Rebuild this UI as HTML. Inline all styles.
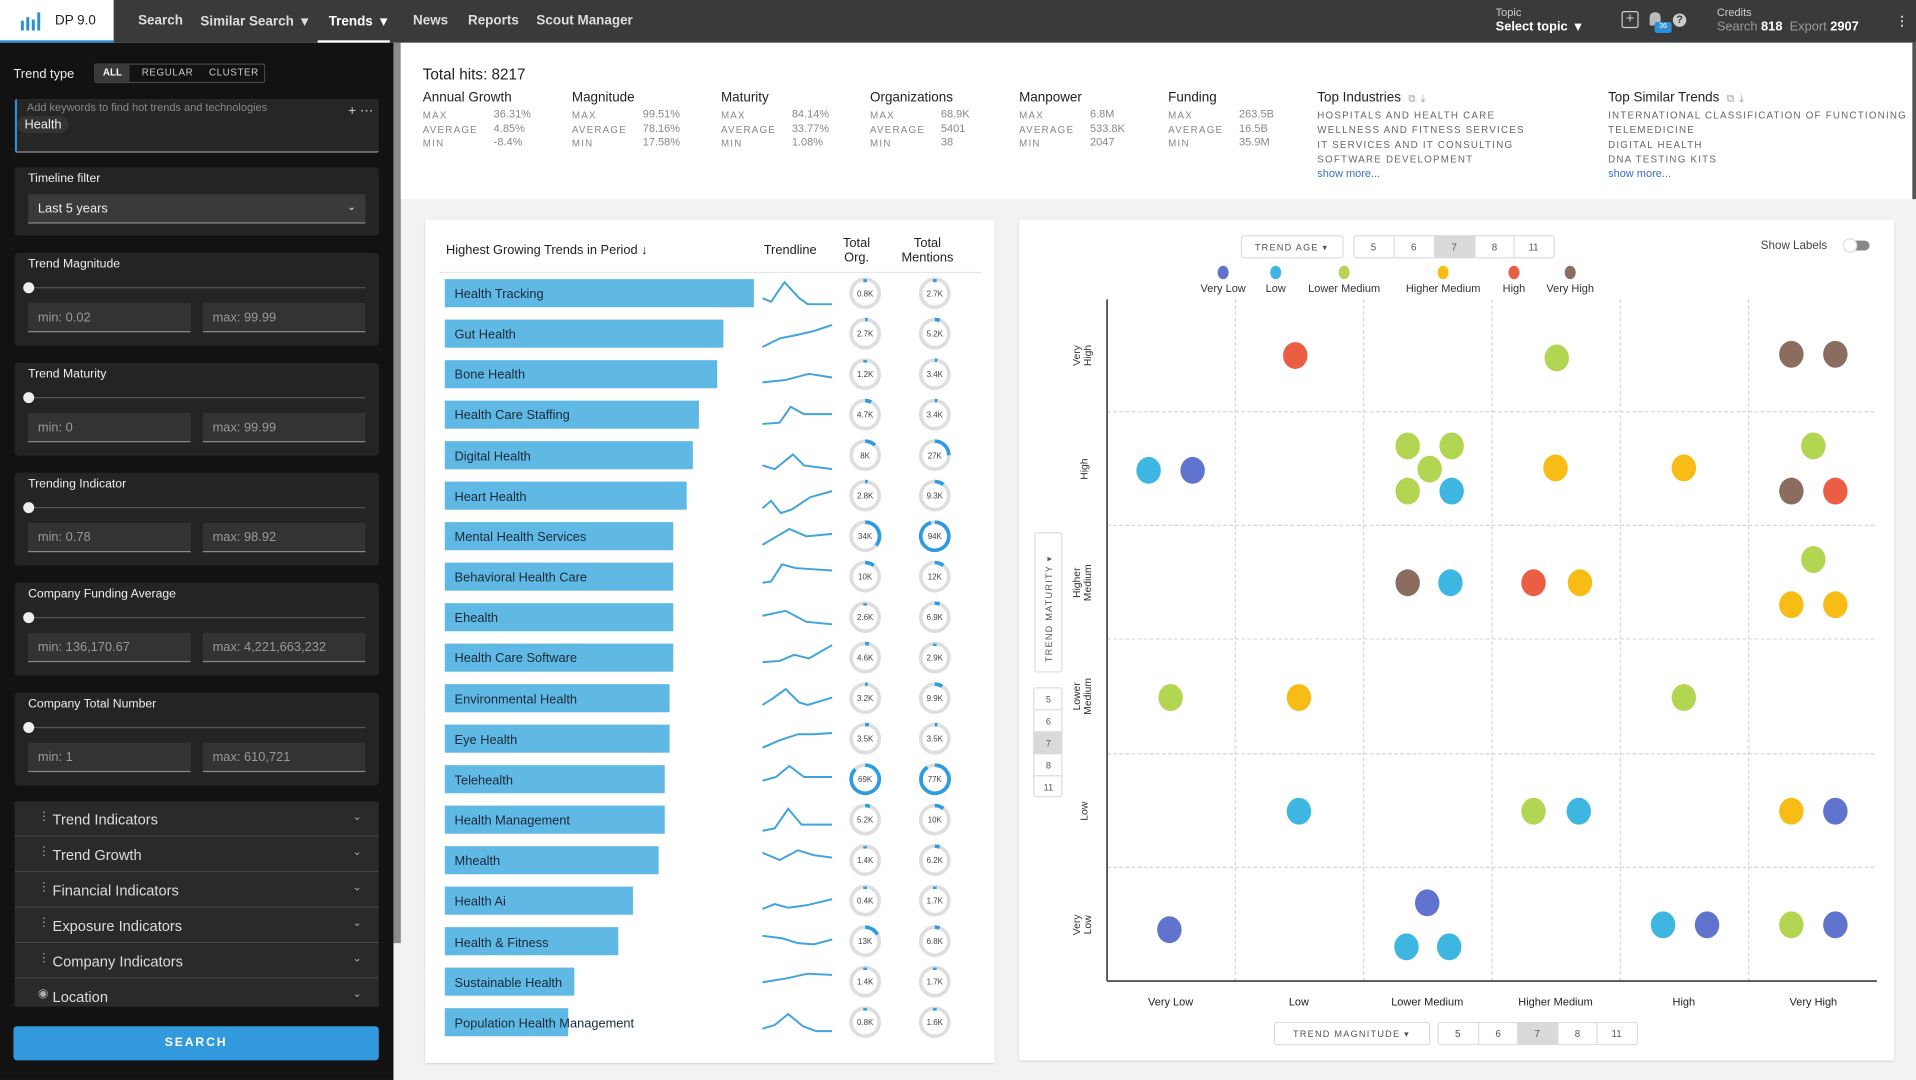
<!DOCTYPE html>
<html><head><meta charset="utf-8"><style>
*{box-sizing:border-box;margin:0;padding:0}
html,body{width:1916px;height:1080px;overflow:hidden;background:#f2f2f2;font-family:"Liberation Sans",sans-serif}
#w{position:absolute;left:0;top:0;width:1568px;height:884px;transform:scale(1.22194,1.2217);transform-origin:0 0;background:#f2f2f2}
.a{position:absolute;white-space:nowrap}
.nav{left:0;top:0;width:1568px;height:35px;background:#3a3a3a}
.nv{color:#ddd;font-size:11px;top:11px;font-weight:bold}
.sb{left:0;top:35px;width:322px;height:849px;background:#121212}
.lbl{color:#eee;font-size:10px}
.pn{left:12px;width:298px;background:#242424;border-radius:3px}
.inp{background:#333;border-bottom:1px solid #888;color:#999;font-size:10.5px;padding:6px 8px;height:24px}
.acc{left:12px;width:298px;height:29px;background:#2a2a2a;border-bottom:1px solid #444;color:#ddd;font-size:12px;padding:8px 0 0 31px}
.acc i{position:absolute;right:14px;top:7px;font-style:normal;font-size:9px;color:#aaa}
.acc b{position:absolute;left:19px;top:7px;font-weight:normal;color:#aaa;font-size:10px}
.st{font-size:8px;color:#888;letter-spacing:1px}
.stv{font-size:9px;color:#888}
.h1{font-size:11px;color:#222}
.card{background:#fff;box-shadow:0 1px 2px #ccc}
.seg{border:1px solid #ddd;background:#fff;font-size:8px;color:#555;text-align:center;border-radius:2px}
</style></head><body><div id="w">
<div class="a nav"></div>
<div class="a" style="left:0;top:0;width:93px;height:35px;background:#fff;border-bottom:2px solid #2d8fd8"></div>
<svg class="a" style="left:17px;top:10px" width="16" height="15"><rect x="0" y="7" width="2.5" height="8" fill="#2d8fd8"/><rect x="4.5" y="4" width="2.5" height="11" fill="#2d8fd8"/><rect x="9" y="6" width="2.5" height="9" fill="#2d8fd8"/><rect x="13.5" y="0" width="2.5" height="15" fill="#2d8fd8"/></svg>
<div class="a" style="left:45px;top:11px;font-size:11px;color:#222">DP 9.0</div>
<div class="a nv" style="left:113px">Search</div>
<div class="a nv" style="left:164px">Similar Search &nbsp;▾</div>
<div class="a nv" style="left:269px;color:#fff">Trends &nbsp;▾</div>
<div class="a" style="left:260px;top:33px;width:59px;height:2px;background:#fff"></div>
<div class="a nv" style="left:338px">News</div>
<div class="a nv" style="left:383px">Reports</div>
<div class="a nv" style="left:439px">Scout Manager</div>
<div class="a" style="left:1224px;top:5px;font-size:9px;color:#ccc">Topic</div>
<div class="a" style="left:1224px;top:16px;font-size:10.5px;color:#fff;font-weight:bold">Select topic &nbsp;▾</div>
<div class="a" style="left:1327px;top:9px;width:14px;height:14px;border:1px solid #ccc;border-radius:2px;color:#ccc;font-size:12px;line-height:11px;text-align:center">+</div>
<div class="a" style="left:1350px;top:10px;width:9px;height:11px;background:#bbb;border-radius:4px 4px 1px 1px"></div>
<div class="a" style="left:1354px;top:18px;width:14px;height:9px;background:#2d8fd8;border-radius:2px;color:#fff;font-size:6px;text-align:center;line-height:9px">36</div>
<div class="a" style="left:1369px;top:11px;width:11px;height:11px;background:#ccc;border-radius:50%;color:#3a3a3a;font-size:9px;font-weight:bold;text-align:center;line-height:11px">?</div>
<div class="a" style="left:1405px;top:5px;font-size:9px;color:#ccc">Credits</div>
<div class="a" style="left:1405px;top:16px;font-size:10.5px;color:#999">Search <b style="color:#fff">818</b>&nbsp; Export <b style="color:#fff">2907</b></div>
<div class="a" style="left:1551px;top:11px;color:#ccc;font-size:11px;font-weight:bold">⋮</div>

<!-- sidebar -->
<div class="a sb"></div>
<div class="a" style="left:322px;top:35px;width:6px;height:737px;background:#8a8a8a"></div>
<div class="a lbl" style="left:11px;top:55px;font-size:10.5px">Trend type</div>
<div class="a" style="left:77px;top:52px;width:140px;height:16px;border:1px solid #444;border-radius:2px"></div>
<div class="a" style="left:78px;top:53px;width:28px;height:14px;background:#3a3a3a;color:#fff;font-size:8px;font-weight:bold;text-align:center;line-height:14px">ALL</div>
<div class="a" style="left:116px;top:55px;color:#ccc;font-size:8px;letter-spacing:.5px">REGULAR</div>
<div class="a" style="left:171px;top:55px;color:#ccc;font-size:8px;letter-spacing:.5px">CLUSTER</div>
<div class="a" style="left:12px;top:81px;width:298px;height:44px;background:#262626;border-left:2px solid #2d8fd8;border-bottom:1px solid #aaa;border-radius:2px"></div>
<div class="a" style="left:22px;top:83px;color:#888;font-size:9px">Add keywords to find hot trends and technologies</div>
<div class="a" style="left:285px;top:84px;color:#ccc;font-size:11px">+ ⋯</div>
<div class="a" style="left:14px;top:95px;background:#333;border-radius:8px;color:#eee;font-size:10.5px;padding:1px 6px">Health</div>

<div class="a pn" style="top:137px;height:56px"></div>
<div class="a lbl" style="left:23px;top:141px">Timeline filter</div>
<div class="a inp" style="left:23px;top:159px;width:276px;color:#eee;background:#3a3a3a">Last 5 years<span style="position:absolute;right:8px;font-size:8px">⌄</span></div>

<div class="a pn" style="top:207px;height:76px"></div>
<div class="a lbl" style="left:23px;top:211px">Trend Magnitude</div>
<div class="a" style="left:23px;top:235px;width:276px;height:1px;background:#555"></div>
<div class="a" style="left:19px;top:231px;width:9px;height:9px;border-radius:50%;background:#eee"></div>
<div class="a inp" style="left:23px;top:248px;width:133px">min: 0.02</div>
<div class="a inp" style="left:166px;top:248px;width:133px">max: 99.99</div>

<div class="a pn" style="top:297px;height:76px"></div>
<div class="a lbl" style="left:23px;top:301px">Trend Maturity</div>
<div class="a" style="left:23px;top:325px;width:276px;height:1px;background:#555"></div>
<div class="a" style="left:19px;top:321px;width:9px;height:9px;border-radius:50%;background:#eee"></div>
<div class="a inp" style="left:23px;top:338px;width:133px">min: 0</div>
<div class="a inp" style="left:166px;top:338px;width:133px">max: 99.99</div>

<div class="a pn" style="top:387px;height:76px"></div>
<div class="a lbl" style="left:23px;top:391px">Trending Indicator</div>
<div class="a" style="left:23px;top:415px;width:276px;height:1px;background:#555"></div>
<div class="a" style="left:19px;top:411px;width:9px;height:9px;border-radius:50%;background:#eee"></div>
<div class="a inp" style="left:23px;top:428px;width:133px">min: 0.78</div>
<div class="a inp" style="left:166px;top:428px;width:133px">max: 98.92</div>

<div class="a pn" style="top:477px;height:76px"></div>
<div class="a lbl" style="left:23px;top:481px">Company Funding Average</div>
<div class="a" style="left:23px;top:505px;width:276px;height:1px;background:#555"></div>
<div class="a" style="left:19px;top:501px;width:9px;height:9px;border-radius:50%;background:#eee"></div>
<div class="a inp" style="left:23px;top:518px;width:133px">min: 136,170.67</div>
<div class="a inp" style="left:166px;top:518px;width:133px">max: 4,221,663,232</div>

<div class="a pn" style="top:567px;height:76px"></div>
<div class="a lbl" style="left:23px;top:571px">Company Total Number</div>
<div class="a" style="left:23px;top:595px;width:276px;height:1px;background:#555"></div>
<div class="a" style="left:19px;top:591px;width:9px;height:9px;border-radius:50%;background:#eee"></div>
<div class="a inp" style="left:23px;top:608px;width:133px">min: 1</div>
<div class="a inp" style="left:166px;top:608px;width:133px">max: 610,721</div>

<div class="a acc" style="top:656px"><b>⋮</b>Trend Indicators<i>⌄</i></div>
<div class="a acc" style="top:685px"><b>⋮</b>Trend Growth<i>⌄</i></div>
<div class="a acc" style="top:714px"><b>⋮</b>Financial Indicators<i>⌄</i></div>
<div class="a acc" style="top:743px"><b>⋮</b>Exposure Indicators<i>⌄</i></div>
<div class="a acc" style="top:772px"><b>⋮</b>Company Indicators<i>⌄</i></div>
<div class="a acc" style="top:801px;height:23px;border:0"><b>◉</b>Location<i>⌄</i></div>
<div class="a" style="left:11px;top:840px;width:299px;height:28px;background:#3399dd;border-radius:3px;color:#fff;font-size:10px;font-weight:bold;letter-spacing:1.5px;text-align:center;line-height:28px">SEARCH</div>

<!-- header stats -->
<div class="a" style="left:328px;top:35px;width:1237px;height:128px;background:#fff"></div>
<div class="a" style="left:1565px;top:35px;width:3px;height:128px;background:#555"></div>
<div class="a" style="left:346px;top:54px;font-size:12.5px;color:#222">Total hits: 8217</div>
<div class="a h1" style="left:346px;top:74px">Annual Growth</div><div class="a h1" style="left:468px;top:74px">Magnitude</div><div class="a h1" style="left:590px;top:74px">Maturity</div><div class="a h1" style="left:712px;top:74px">Organizations</div><div class="a h1" style="left:834px;top:74px">Manpower</div><div class="a h1" style="left:956px;top:74px">Funding</div><div class="a h1" style="left:1078px;top:74px">Top Industries &nbsp;<span style="color:#999;font-size:8px">⧉ &nbsp;⤓</span></div><div class="a h1" style="left:1316px;top:74px">Top Similar Trends &nbsp;<span style="color:#999;font-size:8px">⧉ &nbsp;⤓</span></div>
<div class="a st" style="left:346px;top:89px;line-height:11.7px">MAX<br>AVERAGE<br>MIN</div><div class="a stv" style="left:404px;top:88px;line-height:11.7px">36.31%<br>4.85%<br>-8.4%</div>
<div class="a st" style="left:468px;top:89px;line-height:11.7px">MAX<br>AVERAGE<br>MIN</div><div class="a stv" style="left:526px;top:88px;line-height:11.7px">99.51%<br>78.16%<br>17.58%</div>
<div class="a st" style="left:590px;top:89px;line-height:11.7px">MAX<br>AVERAGE<br>MIN</div><div class="a stv" style="left:648px;top:88px;line-height:11.7px">84.14%<br>33.77%<br>1.08%</div>
<div class="a st" style="left:712px;top:89px;line-height:11.7px">MAX<br>AVERAGE<br>MIN</div><div class="a stv" style="left:770px;top:88px;line-height:11.7px">68.9K<br>5401<br>38</div>
<div class="a st" style="left:834px;top:89px;line-height:11.7px">MAX<br>AVERAGE<br>MIN</div><div class="a stv" style="left:892px;top:88px;line-height:11.7px">6.8M<br>533.8K<br>2047</div>
<div class="a st" style="left:956px;top:89px;line-height:11.7px">MAX<br>AVERAGE<br>MIN</div><div class="a stv" style="left:1014px;top:88px;line-height:11.7px">263.5B<br>16.5B<br>35.9M</div>
<div class="a st" style="left:1078px;top:89px;line-height:11.9px;color:#666">HOSPITALS AND HEALTH CARE<br>WELLNESS AND FITNESS SERVICES<br>IT SERVICES AND IT CONSULTING<br>SOFTWARE DEVELOPMENT</div>
<div class="a" style="left:1078px;top:137px;font-size:9px;color:#3a6fc4">show more...</div>
<div class="a st" style="left:1316px;top:89px;line-height:11.9px;color:#666">INTERNATIONAL CLASSIFICATION OF FUNCTIONING<br>TELEMEDICINE<br>DIGITAL HEALTH<br>DNA TESTING KITS</div>
<div class="a" style="left:1316px;top:137px;font-size:9px;color:#3a6fc4">show more...</div>

<!-- left card -->
<div class="a card" style="left:348px;top:180px;width:466px;height:690px"></div>
<svg class="a" style="left:348px;top:180px" width="466" height="690" font-family="Liberation Sans, sans-serif">
<text x="17" y="28" font-size="10.5" fill="#222">Highest Growing Trends in Period ↓</text>
<text x="277" y="28" font-size="10.5" fill="#222">Trendline</text>
<text x="353" y="22" font-size="10.5" fill="#222" text-anchor="middle">Total</text><text x="353" y="34" font-size="10.5" fill="#222" text-anchor="middle">Org.</text>
<text x="411" y="22" font-size="10.5" fill="#222" text-anchor="middle">Total</text><text x="411" y="34" font-size="10.5" fill="#222" text-anchor="middle">Mentions</text>
<line x1="11" y1="43" x2="455" y2="43" stroke="#e6e6e6"/>
<g id="rows" font-size="10.5" fill="#222"></g>
</svg>
<svg class="a" style="left:348px;top:180px" width="466" height="690" font-family="Liberation Sans, sans-serif" font-size="10.5">
<!-- bars -->
<g fill="#5fb9e4">
<rect x="16" y="48.5" width="253" height="23"/><rect x="16" y="81.6" width="228" height="23"/><rect x="16" y="114.8" width="223" height="23"/><rect x="16" y="147.9" width="208" height="23"/><rect x="16" y="181.1" width="203" height="23"/><rect x="16" y="214.2" width="198" height="23"/><rect x="16" y="247.4" width="187" height="23"/><rect x="16" y="280.5" width="187" height="23"/><rect x="16" y="313.7" width="187" height="23"/><rect x="16" y="346.8" width="187" height="23"/><rect x="16" y="380" width="184" height="23"/><rect x="16" y="413.1" width="184" height="23"/><rect x="16" y="446.3" width="180" height="23"/><rect x="16" y="479.4" width="180" height="23"/><rect x="16" y="512.6" width="175" height="23"/><rect x="16" y="545.7" width="154" height="23"/><rect x="16" y="578.9" width="142" height="23"/><rect x="16" y="612" width="106" height="23"/><rect x="16" y="645.2" width="101" height="23"/>
</g>
<g fill="#1a2a3a">
<text x="24" y="64">Health Tracking</text><text x="24" y="97">Gut Health</text><text x="24" y="130">Bone Health</text><text x="24" y="163">Health Care Staffing</text><text x="24" y="197">Digital Health</text><text x="24" y="230">Heart Health</text><text x="24" y="263">Mental Health Services</text><text x="24" y="296">Behavioral Health Care</text><text x="24" y="329">Ehealth</text><text x="24" y="362">Health Care Software</text><text x="24" y="396">Environmental Health</text><text x="24" y="429">Eye Health</text><text x="24" y="462">Telehealth</text><text x="24" y="495">Health Management</text><text x="24" y="528">Mhealth</text><text x="24" y="561">Health Ai</text><text x="24" y="595">Health &amp; Fitness</text><text x="24" y="628">Sustainable Health</text><text x="24" y="661">Population Health Management</text>
</g>
<!-- trendlines -->
<g fill="none" stroke="#3fa3dc" stroke-width="1.6">
<path d="M276,64 L283,67 L294,51 L306,64 L313,69 L333,69"/>
<path d="M276,104 L290,97 L305,94 L318,91 L333,86"/>
<path d="M276,133 L295,131 L314,126 L333,129"/>
<path d="M276,167 L290,166 L299,153 L310,159 L333,159"/>
<path d="M276,201 L286,204 L301,192 L310,201 L333,204"/>
<path d="M276,236 L283,230 L291,240 L300,237 L315,227 L333,222"/>
<path d="M276,266 L286,260 L298,253 L312,259 L333,257"/>
<path d="M276,297 L283,296 L292,282 L303,285 L318,286 L333,287"/>
<path d="M276,324 L295,320 L312,329 L333,331"/>
<path d="M276,362 L290,361 L302,356 L314,359 L333,348"/>
<path d="M276,397 L284,392 L295,384 L306,395 L313,397 L333,391"/>
<path d="M276,432 L290,426 L305,421 L318,421 L333,420"/>
<path d="M276,459 L287,456 L298,447 L310,456 L333,456"/>
<path d="M276,500 L286,498 L297,482 L308,495 L333,495"/>
<path d="M276,518 L290,524 L305,516 L318,520 L333,522"/>
<path d="M276,564 L286,560 L297,563 L312,561 L333,556"/>
<path d="M276,586 L292,588 L305,592 L318,593 L333,589"/>
<path d="M276,624 L295,621 L313,617 L333,618"/>
<path d="M276,662 L286,659 L297,650 L309,660 L320,664 L333,664"/>
</g>
<!-- donuts -->
<g fill="none" stroke="#dedede" stroke-width="3">
<circle cx="360" cy="60" r="11.5"/><circle cx="417" cy="60" r="11.5"/><circle cx="360" cy="93.1" r="11.5"/><circle cx="417" cy="93.1" r="11.5"/><circle cx="360" cy="126.3" r="11.5"/><circle cx="417" cy="126.3" r="11.5"/><circle cx="360" cy="159.4" r="11.5"/><circle cx="417" cy="159.4" r="11.5"/><circle cx="360" cy="192.6" r="11.5"/><circle cx="417" cy="192.6" r="11.5"/><circle cx="360" cy="225.7" r="11.5"/><circle cx="417" cy="225.7" r="11.5"/><circle cx="360" cy="258.9" r="11.5"/><circle cx="417" cy="258.9" r="11.5"/><circle cx="360" cy="292" r="11.5"/><circle cx="417" cy="292" r="11.5"/><circle cx="360" cy="325.2" r="11.5"/><circle cx="417" cy="325.2" r="11.5"/><circle cx="360" cy="358.3" r="11.5"/><circle cx="417" cy="358.3" r="11.5"/><circle cx="360" cy="391.5" r="11.5"/><circle cx="417" cy="391.5" r="11.5"/><circle cx="360" cy="424.6" r="11.5"/><circle cx="417" cy="424.6" r="11.5"/><circle cx="360" cy="457.8" r="11.5"/><circle cx="417" cy="457.8" r="11.5"/><circle cx="360" cy="490.9" r="11.5"/><circle cx="417" cy="490.9" r="11.5"/><circle cx="360" cy="524.1" r="11.5"/><circle cx="417" cy="524.1" r="11.5"/><circle cx="360" cy="557.2" r="11.5"/><circle cx="417" cy="557.2" r="11.5"/><circle cx="360" cy="590.4" r="11.5"/><circle cx="417" cy="590.4" r="11.5"/><circle cx="360" cy="623.5" r="11.5"/><circle cx="417" cy="623.5" r="11.5"/><circle cx="360" cy="656.7" r="11.5"/><circle cx="417" cy="656.7" r="11.5"/>
</g>
<g fill="none" stroke="#2d9be0" stroke-width="3">
<path d="M360,48.5 v2.5"/><path d="M417,48.5 v2.5"/>
<path d="M360,81.6 a11.5,11.5 0 0 1 2,0.2"/><path d="M417,81.6 a11.5,11.5 0 0 1 4,0.7"/>
<path d="M360,114.8 v2"/><path d="M417,114.8 a11.5,11.5 0 0 1 2,0.2"/>
<path d="M360,147.9 a11.5,11.5 0 0 1 5,1.2"/><path d="M417,147.9 a11.5,11.5 0 0 1 2,0.2"/>
<path d="M360,181.1 a11.5,11.5 0 0 1 8,3.3"/><path d="M417,181.1 a11.5,11.5 0 0 1 11.5,11.5"/>
<path d="M360,214.2 a11.5,11.5 0 0 1 2,0.2"/><path d="M417,214.2 a11.5,11.5 0 0 1 7,2.4"/>
<path d="M360,247.4 a11.5,11.5 0 0 1 9,19"/><path d="M417,247.4 a11.5,11.5 0 1 1 -3,0.4"/>
<path d="M360,280.5 a11.5,11.5 0 0 1 7,2.4"/><path d="M417,280.5 a11.5,11.5 0 0 1 7,2.4"/>
<path d="M360,313.7 v2"/><path d="M417,313.7 a11.5,11.5 0 0 1 4,0.7"/>
<path d="M360,346.8 a11.5,11.5 0 0 1 3,0.4"/><path d="M417,346.8 v2"/>
<path d="M360,380 a11.5,11.5 0 0 1 2,0.2"/><path d="M417,380 a11.5,11.5 0 0 1 6,1.8"/>
<path d="M360,413.1 a11.5,11.5 0 0 1 3,0.4"/><path d="M417,413.1 a11.5,11.5 0 0 1 2,0.2"/>
<path d="M360,446.3 a11.5,11.5 0 1 1 -8,3.3"/><path d="M417,446.3 a11.5,11.5 0 1 1 -6,1.8"/>
<path d="M360,479.4 a11.5,11.5 0 0 1 4,0.7"/><path d="M417,479.4 a11.5,11.5 0 0 1 7,2.4"/>
<path d="M360,512.6 v2"/><path d="M417,512.6 a11.5,11.5 0 0 1 4,0.7"/>
<path d="M360,545.7 v2"/><path d="M417,545.7 v2"/>
<path d="M360,578.9 a11.5,11.5 0 0 1 10,6"/><path d="M417,578.9 a11.5,11.5 0 0 1 4,0.7"/>
<path d="M360,612 v2"/><path d="M417,612 v2"/>
<path d="M360,645.2 v2"/><path d="M417,645.2 v2"/>
</g>
<g font-size="6.5" fill="#444" text-anchor="middle">
<text x="360" y="62.5">0.8K</text><text x="417" y="62.5">2.7K</text><text x="360" y="95.6">2.7K</text><text x="417" y="95.6">5.2K</text><text x="360" y="128.8">1.2K</text><text x="417" y="128.8">3.4K</text><text x="360" y="161.9">4.7K</text><text x="417" y="161.9">3.4K</text><text x="360" y="195.1">8K</text><text x="417" y="195.1">27K</text><text x="360" y="228.2">2.8K</text><text x="417" y="228.2">9.3K</text><text x="360" y="261.4">34K</text><text x="417" y="261.4">94K</text><text x="360" y="294.5">10K</text><text x="417" y="294.5">12K</text><text x="360" y="327.7">2.6K</text><text x="417" y="327.7">6.9K</text><text x="360" y="360.8">4.6K</text><text x="417" y="360.8">2.9K</text><text x="360" y="394">3.2K</text><text x="417" y="394">9.9K</text><text x="360" y="427.1">3.5K</text><text x="417" y="427.1">3.5K</text><text x="360" y="460.3">69K</text><text x="417" y="460.3">77K</text><text x="360" y="493.4">5.2K</text><text x="417" y="493.4">10K</text><text x="360" y="526.6">1.4K</text><text x="417" y="526.6">6.2K</text><text x="360" y="559.7">0.4K</text><text x="417" y="559.7">1.7K</text><text x="360" y="592.9">13K</text><text x="417" y="592.9">6.8K</text><text x="360" y="626">1.4K</text><text x="417" y="626">1.7K</text><text x="360" y="659.2">0.8K</text><text x="417" y="659.2">1.6K</text>
</g>
</svg>

<!-- right card -->
<div class="a card" style="left:834px;top:180px;width:716px;height:688px"></div>
<svg class="a" style="left:834px;top:180px" width="716" height="688" font-family="Liberation Sans, sans-serif">
<rect x="182" y="13" width="83" height="18" rx="2" fill="#fff" stroke="#ddd"/>
<text x="223" y="25" font-size="7.5" fill="#555" text-anchor="middle" letter-spacing="1">TREND AGE ▾</text>
<rect x="274" y="13" width="164" height="18" rx="2" fill="#fff" stroke="#ddd"/>
<rect x="340" y="13" width="33" height="18" fill="#d9d9d9"/>
<g stroke="#ddd"><line x1="307" y1="13" x2="307" y2="31"/><line x1="340" y1="13" x2="340" y2="31"/><line x1="373" y1="13" x2="373" y2="31"/><line x1="405" y1="13" x2="405" y2="31"/></g>
<g font-size="8" fill="#555" text-anchor="middle"><text x="290" y="25">5</text><text x="323" y="25">6</text><text x="356" y="25">7</text><text x="389" y="25">8</text><text x="421" y="25">11</text></g>
<text x="607" y="24" font-size="9.5" fill="#444">Show Labels</text>
<rect x="676" y="17" width="20" height="8" rx="4" fill="#888"/><circle cx="680" cy="21" r="5.5" fill="#fff" stroke="#ddd"/>
<g><ellipse cx="167" cy="43" rx="4.5" ry="5.5" fill="#5f73cf"/><ellipse cx="210" cy="43" rx="4.5" ry="5.5" fill="#3db6e1"/><ellipse cx="266" cy="43" rx="4.5" ry="5.5" fill="#b2d552"/><ellipse cx="347" cy="43" rx="4.5" ry="5.5" fill="#f8bc17"/><ellipse cx="405" cy="43" rx="4.5" ry="5.5" fill="#ea5f43"/><ellipse cx="451" cy="43" rx="4.5" ry="5.5" fill="#8a6d5e"/></g>
<g font-size="9" fill="#333" text-anchor="middle"><text x="167" y="59">Very Low</text><text x="210" y="59">Low</text><text x="266" y="59">Lower Medium</text><text x="347" y="59">Higher Medium</text><text x="405" y="59">High</text><text x="451" y="59">Very High</text></g>
<!-- grid -->
<g stroke="#d6d6d6" stroke-dasharray="3,2"><line x1="177" y1="65" x2="177" y2="623"/><line x1="282" y1="65" x2="282" y2="623"/><line x1="387" y1="65" x2="387" y2="623"/><line x1="492" y1="65" x2="492" y2="623"/><line x1="597" y1="65" x2="597" y2="623"/>
<line x1="72" y1="157" x2="702" y2="157"/><line x1="72" y1="250" x2="702" y2="250"/><line x1="72" y1="343" x2="702" y2="343"/><line x1="72" y1="437" x2="702" y2="437"/><line x1="72" y1="530" x2="702" y2="530"/></g>
<line x1="72" y1="65" x2="72" y2="623" stroke="#555" stroke-width="1.5"/>
<line x1="72" y1="623" x2="702" y2="623" stroke="#555" stroke-width="1.5"/>
<g font-size="8.5" fill="#333" text-anchor="middle">
<text transform="translate(52,111) rotate(-90)"><tspan x="0" y="-2">Very</tspan><tspan x="0" y="7">High</tspan></text>
<text transform="translate(56,204) rotate(-90)">High</text>
<text transform="translate(52,297) rotate(-90)"><tspan x="0" y="-2">Higher</tspan><tspan x="0" y="7">Medium</tspan></text>
<text transform="translate(52,390) rotate(-90)"><tspan x="0" y="-2">Lower</tspan><tspan x="0" y="7">Medium</tspan></text>
<text transform="translate(56,484) rotate(-90)">Low</text>
<text transform="translate(52,577) rotate(-90)"><tspan x="0" y="-2">Very</tspan><tspan x="0" y="7">Low</tspan></text>
</g>
<g font-size="9" fill="#222" text-anchor="middle"><text x="124" y="643">Very Low</text><text x="229" y="643">Low</text><text x="334" y="643">Lower Medium</text><text x="439" y="643">Higher Medium</text><text x="544" y="643">High</text><text x="650" y="643">Very High</text></g>
<!-- maturity control -->
<rect x="13" y="256" width="22" height="114" rx="2" fill="#fff" stroke="#ddd"/>
<text transform="translate(27,362) rotate(-90)" font-size="7.5" fill="#555" letter-spacing="1">TREND MATURITY ▾</text>
<rect x="12" y="383" width="23" height="89" rx="2" fill="#fff" stroke="#ddd"/>
<rect x="12" y="419" width="23" height="18" fill="#d9d9d9"/>
<g stroke="#ddd"><line x1="12" y1="401" x2="35" y2="401"/><line x1="12" y1="419" x2="35" y2="419"/><line x1="12" y1="437" x2="35" y2="437"/><line x1="12" y1="455" x2="35" y2="455"/></g>
<g font-size="7.5" fill="#555" text-anchor="middle"><text x="24" y="395">5</text><text x="24" y="413">6</text><text x="24" y="431">7</text><text x="24" y="449">8</text><text x="24" y="467">11</text></g>
<!-- magnitude control -->
<rect x="209" y="657" width="127" height="18" rx="2" fill="#fff" stroke="#ddd"/>
<text x="272" y="669" font-size="7.5" fill="#555" text-anchor="middle" letter-spacing="1">TREND MAGNITUDE ▾</text>
<rect x="343" y="657" width="163" height="18" rx="2" fill="#fff" stroke="#ddd"/>
<rect x="408" y="657" width="33" height="18" fill="#d9d9d9"/>
<g stroke="#ddd"><line x1="376" y1="657" x2="376" y2="675"/><line x1="408" y1="657" x2="408" y2="675"/><line x1="441" y1="657" x2="441" y2="675"/><line x1="473" y1="657" x2="473" y2="675"/></g>
<g font-size="8" fill="#555" text-anchor="middle"><text x="359" y="669">5</text><text x="392" y="669">6</text><text x="424" y="669">7</text><text x="457" y="669">8</text><text x="489" y="669">11</text></g>
<!-- dots -->
<g transform="translate(-834,-180)">
<g fill="#ea5f43"><ellipse cx="1060" cy="291" rx="10" ry="11"/><ellipse cx="1502" cy="402" rx="10" ry="11"/><ellipse cx="1255" cy="477" rx="10" ry="11"/></g>
<g fill="#b2d552"><ellipse cx="1274" cy="293" rx="10" ry="11"/><ellipse cx="1152" cy="365" rx="10" ry="11"/><ellipse cx="1188" cy="365" rx="10" ry="11"/><ellipse cx="1170" cy="384" rx="10" ry="11"/><ellipse cx="1152" cy="402" rx="10" ry="11"/><ellipse cx="1484" cy="365" rx="10" ry="11"/><ellipse cx="1484" cy="458" rx="10" ry="11"/><ellipse cx="958" cy="571" rx="10" ry="11"/><ellipse cx="1378" cy="571" rx="10" ry="11"/><ellipse cx="1255" cy="664" rx="10" ry="11"/><ellipse cx="1466" cy="757" rx="10" ry="11"/></g>
<g fill="#8a6d5e"><ellipse cx="1466" cy="290" rx="10" ry="11"/><ellipse cx="1502" cy="290" rx="10" ry="11"/><ellipse cx="1466" cy="402" rx="10" ry="11"/><ellipse cx="1152" cy="477" rx="10" ry="11"/></g>
<g fill="#3db6e1"><ellipse cx="940" cy="385" rx="10" ry="11"/><ellipse cx="1188" cy="402" rx="10" ry="11"/><ellipse cx="1187" cy="477" rx="10" ry="11"/><ellipse cx="1063" cy="664" rx="10" ry="11"/><ellipse cx="1292" cy="664" rx="10" ry="11"/><ellipse cx="1151" cy="775" rx="10" ry="11"/><ellipse cx="1186" cy="775" rx="10" ry="11"/><ellipse cx="1361" cy="757" rx="10" ry="11"/></g>
<g fill="#5f73cf"><ellipse cx="976" cy="385" rx="10" ry="11"/><ellipse cx="1502" cy="664" rx="10" ry="11"/><ellipse cx="957" cy="761" rx="10" ry="11"/><ellipse cx="1168" cy="739" rx="10" ry="11"/><ellipse cx="1397" cy="757" rx="10" ry="11"/><ellipse cx="1502" cy="757" rx="10" ry="11"/></g>
<g fill="#f8bc17"><ellipse cx="1273" cy="383" rx="10" ry="11"/><ellipse cx="1378" cy="383" rx="10" ry="11"/><ellipse cx="1293" cy="477" rx="10" ry="11"/><ellipse cx="1466" cy="495" rx="10" ry="11"/><ellipse cx="1502" cy="495" rx="10" ry="11"/><ellipse cx="1063" cy="571" rx="10" ry="11"/><ellipse cx="1466" cy="664" rx="10" ry="11"/></g>
</g>
</svg>
</div></body></html>
